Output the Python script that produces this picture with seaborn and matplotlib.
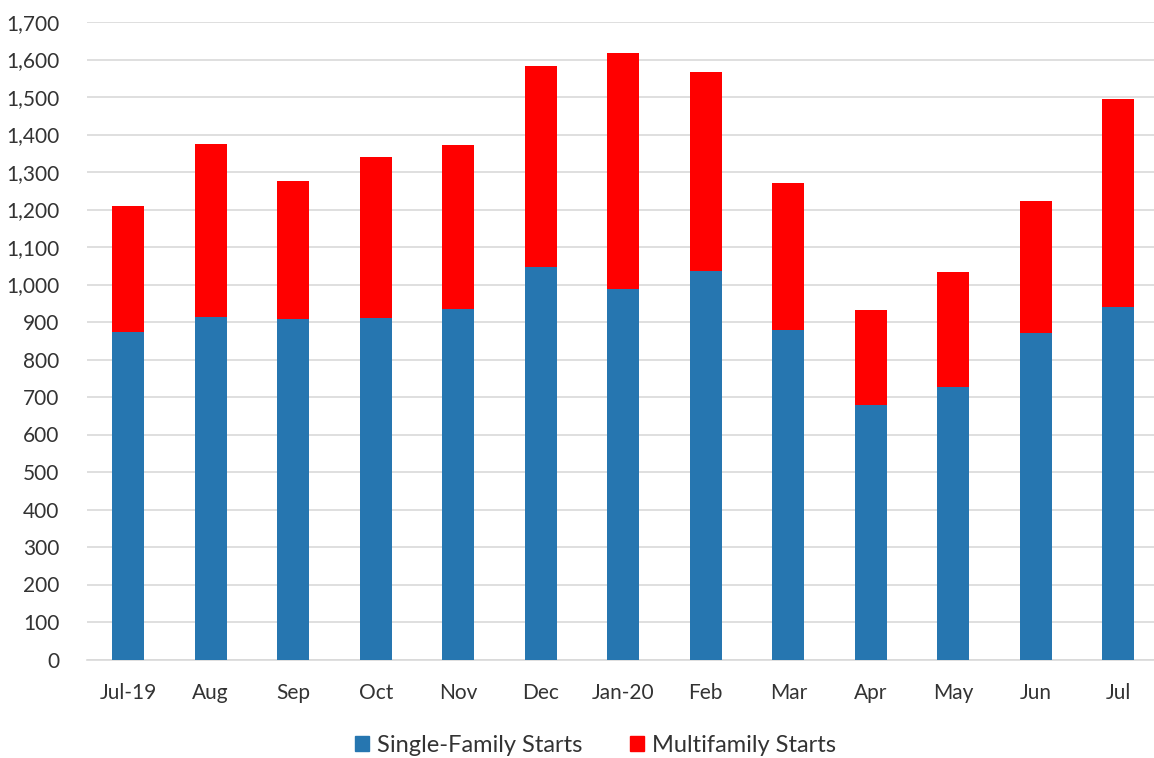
import pandas as pd
import matplotlib
matplotlib.use("Agg")
import matplotlib.pyplot as plt
import seaborn as sns
from matplotlib.patches import Patch
from matplotlib.ticker import FuncFormatter

# Housing starts, thousands
months = ["Jul-19", "Aug", "Sep", "Oct", "Nov", "Dec", "Jan-20",
          "Feb", "Mar", "Apr", "May", "Jun", "Jul"]
single_family = [874, 914, 907, 912, 934, 1046, 987, 1036, 879, 679, 727, 870, 939]
multifamily = [336, 462, 368, 427, 437, 538, 630, 532, 391, 254, 307, 352, 556]

blue = "#2676b0"
red = "#ff0000"

sns.set_theme(style="white")
plt.rcParams['font.family'] = ['Lato', 'DejaVu Sans']

df = pd.DataFrame({"month": months, "single": single_family, "multi": multifamily})
df["total"] = df["single"] + df["multi"]

fig = plt.figure(figsize=(11.54, 7.58), dpi=100)
ax = fig.add_axes([87 / 1154, 1 - 659.5 / 758, (1159.5 - 87) / 1154, (659.5 - 22) / 758])

# stacked look: total in red, single-family drawn on top in blue
sns.barplot(data=df, x="month", y="total", color=red, width=0.39,
            saturation=1, ax=ax, zorder=3)
sns.barplot(data=df, x="month", y="single", color=blue, width=0.39,
            saturation=1, ax=ax, zorder=3)
for p in ax.patches:
    p.set_edgecolor("none")

ax.set_ylim(0, 1700)
ax.set_yticks(range(0, 1701, 100))
ax.yaxis.set_major_formatter(FuncFormatter(lambda v, _: f"{int(v):,}"))
ax.grid(axis="y", color="#d9d9d9", linewidth=1.2, zorder=0)
ax.set_axisbelow(True)
ax.set_xlabel("")
ax.set_ylabel("")

for side in ["top", "right", "left"]:
    ax.spines[side].set_visible(False)
ax.spines["bottom"].set_color("#d9d9d9")
ax.spines["bottom"].set_linewidth(1.2)

ax.tick_params(axis="y", length=0, pad=20, labelsize=15, labelcolor="#333333")
ax.tick_params(axis="x", length=0, pad=17, labelsize=15, labelcolor="#333333")

handles = [Patch(color=blue, label="Single-Family Starts"),
           Patch(color=red, label="Multifamily Starts")]
fig.legend(handles=handles, loc="center", bbox_to_anchor=(0.516, 0.017), ncol=2,
           frameon=False, fontsize=17, handlelength=0.6, handleheight=0.6,
           handletextpad=0.35, columnspacing=2.0, labelcolor="#333333")

fig.savefig("out.png", dpi=100)
